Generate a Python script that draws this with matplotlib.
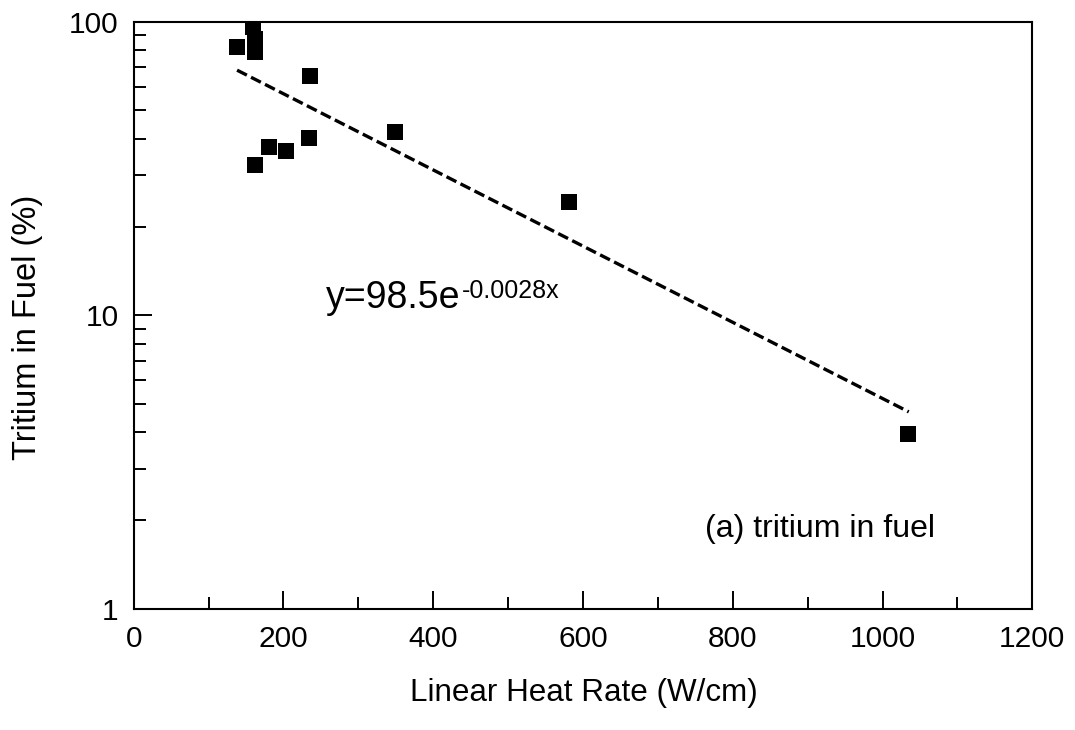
import numpy as np
import matplotlib
matplotlib.use("Agg")
import matplotlib.pyplot as plt
from matplotlib.ticker import FixedLocator, NullFormatter, FixedFormatter, LogLocator
from matplotlib.transforms import Affine2D

plt.rcParams['font.family'] = ['Liberation Sans', 'DejaVu Sans']

# Data
heat_rate = [138, 159, 162, 162, 235, 181, 203, 162, 234, 349, 581, 1034]
tritium_pct = [82.4, 96.4, 87.5, 78.8, 65.3, 37.5, 36.4, 32.5, 40.2, 42.2, 24.3, 3.93]

# Fitted trend line (as drawn)
trend_x = [138, 1035]
trend_a = 103.5
trend_b = 0.00299

x_ticks = [0, 200, 400, 600, 800, 1000, 1200]
y_ticks = [1, 10, 100]
y_tick_labels = ["1", "10", "100"]

fig = plt.figure(figsize=(10.75, 7.3), dpi=100)
ax = fig.add_axes([0.1244, 0.1662, 0.8359, 0.8037])

ax.plot(heat_rate, tritium_pct, linestyle='none', marker='s', markersize=12.2,
        color='black', markeredgewidth=0, zorder=3)

tx = np.linspace(trend_x[0], trend_x[1], 50)
ty = trend_a * np.exp(-trend_b * tx)
ax.plot(tx, ty, color='black', linewidth=2.4, linestyle=(0, (3.3, 1.4)), zorder=2)

ax.set_yscale('log')
ax.set_xlim(0, 1200)
ax.set_ylim(1, 100)

ax.xaxis.set_major_locator(FixedLocator(x_ticks))
ax.xaxis.set_minor_locator(FixedLocator([100, 300, 500, 700, 900, 1100]))
ax.yaxis.set_major_locator(FixedLocator(y_ticks))
ax.yaxis.set_major_formatter(FixedFormatter(y_tick_labels))
ax.yaxis.set_minor_locator(LogLocator(base=10, subs=np.arange(2, 10)))
ax.yaxis.set_minor_formatter(NullFormatter())

ax.tick_params(axis='both', which='major', direction='in', length=13, width=1.4,
               labelsize=21.5, color='black')
ax.tick_params(axis='both', which='minor', direction='in', length=8.6, width=1.4,
               color='black')
ax.tick_params(axis='x', which='both', pad=12)
ax.tick_params(axis='y', which='both', pad=11)

for s in ax.spines.values():
    s.set_linewidth(1.5)
    s.set_color('black')

fig.text(583.5 / 1075, 1 - 693 / 730, "Linear Heat Rate (W/cm)", ha='center', va='center',
         fontsize=22.6)
fig.text(27.5 / 1075, 1 - 327 / 730, "Tritium in Fuel (%)", ha='center', va='center',
         rotation=90, fontsize=23.5)

# equation text: main part + superscript placed right after it
main_x_px, main_base_px = 326, 308
t_main = fig.text(main_x_px / 1075, 1 - main_base_px / 730, "y=98.5e", fontsize=27,
                  ha='left', va='baseline')
fig.canvas.draw()
r = fig.canvas.get_renderer()
bb = t_main.get_window_extent(r)
fig.text((bb.x1 + 1) / 1075, 1 - (main_base_px - 10) / 730, "-0.0028x", fontsize=18,
         ha='left', va='baseline')

fig.text(705 / 1075, 1 - 537 / 730, "(a) tritium in fuel", fontsize=23,
         ha='left', va='baseline')

fig.savefig("out.png", dpi=100, facecolor='white')
